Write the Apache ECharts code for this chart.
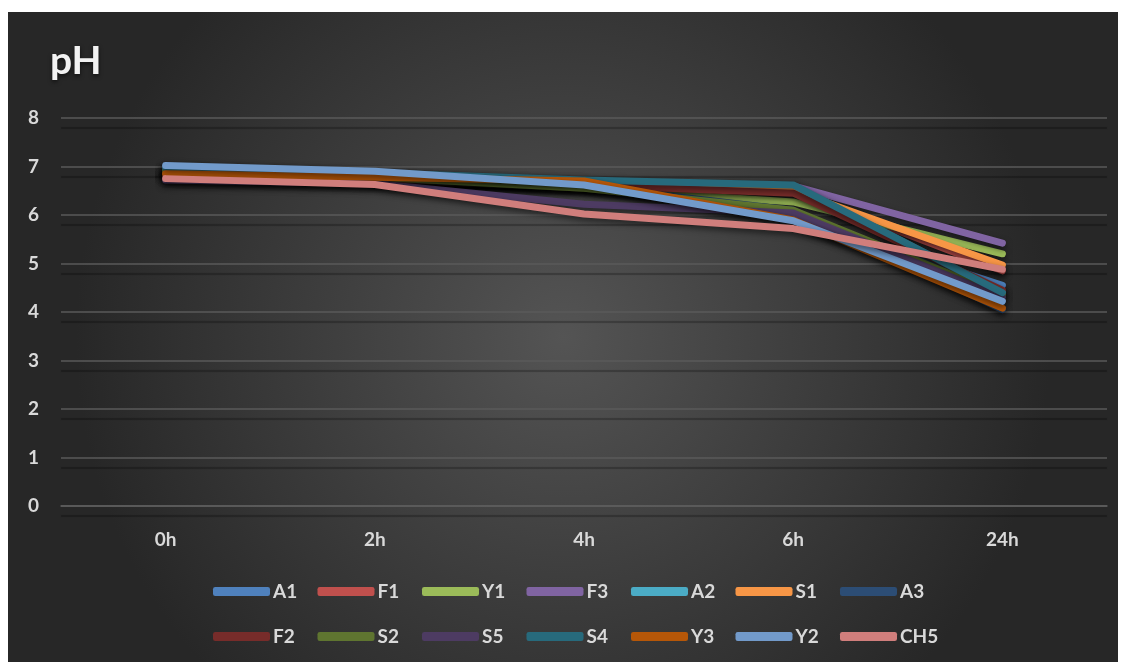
<!DOCTYPE html>
<html>
<head>
<meta charset="utf-8">
<script src="https://cdn.jsdelivr.net/npm/echarts@6/dist/echarts.min.js"></script>
<style>
html,body{margin:0;padding:0;background:#fff;width:1125px;height:662px;overflow:hidden;}
#c{position:absolute;left:8px;top:12px;width:1110px;height:650px;}
</style>
</head>
<body>
<div id="c"></div>
<script>
const categories = ['0h','2h','4h','6h','24h'];
const yTicks = [0,1,2,3,4,5,6,7,8];
const seriesNames = ['A1','F1','Y1','F3','A2','S1','A3','F2','S2','S5','S4','Y3','Y2','CH5'];
const A1  = [6.95, 6.85, 6.65, 5.95, 4.55];
const F1  = [6.80, 6.70, 6.60, 6.50, 4.85];
const Y1  = [6.90, 6.75, 6.55, 6.27, 5.20];
const F3  = [6.85, 6.75, 6.60, 6.60, 5.42];
const A2  = [6.95, 6.85, 6.70, 6.60, 4.40];
const S1  = [6.90, 6.80, 6.70, 6.50, 4.97];
const A3  = [6.85, 6.75, 6.60, 6.10, 4.05];
const F2  = [6.85, 6.75, 6.62, 6.45, 4.45];
const S2  = [6.90, 6.78, 6.55, 6.10, 4.35];
const S5  = [6.72, 6.65, 6.22, 6.04, 4.30];
const S4  = [6.98, 6.87, 6.72, 6.62, 4.40];
const Y3  = [6.85, 6.78, 6.70, 5.90, 4.08];
const Y2  = [7.02, 6.90, 6.62, 5.88, 4.22];
const CH5 = [6.75, 6.63, 6.02, 5.72, 4.88];
const values = [A1,F1,Y1,F3,A2,S1,A3,F2,S2,S5,S4,Y3,Y2,CH5];
const colors = ['#4f81bd','#c0504d','#9bbb59','#8064a2','#4bacc6','#f79646','#2c4d75','#772c2a','#5f7530','#4d3b62','#276a7c','#b65708','#729aca','#d07e7c'];

const FONT = 'Lato, "Open Sans", sans-serif';
const chart = echarts.init(document.getElementById('c'), null, {renderer:'canvas'});

const legends = seriesNames.map((n,i)=>({
  data:[n],
  left: 200 + (i % 7) * 104.5,
  top: i < 7 ? 565 : 610,
  itemWidth: 57, itemHeight: 9, itemGap: 0,
  icon: 'roundRect',
  textStyle: {color:'#d9d9d9', fontSize:19, fontWeight:'bold', fontFamily:FONT, padding:[0,0,0,-2]}
}));

chart.setOption({
  backgroundColor: {type:'radial', x:0.5, y:0.5, r:0.75,
    colorStops:[{offset:0,color:'#545454'},{offset:1,color:'#272727'}]},
  animation:false,
  color: colors,
  title: {text:'pH', left:37, top:25,
    textStyle:{color:'#f2f2f2', fontSize:39, fontWeight:'bold', fontFamily:FONT,
      textShadowColor:'rgba(0,0,0,0.6)', textShadowBlur:4, textShadowOffsetY:2}},
  legend: legends,
  grid: {left:53, right:11, top:106, bottom:156, containLabel:false},
  xAxis: {type:'category', data:categories, boundaryGap:true,
    axisLine:{show:true, lineStyle:{color:'#5e5e5e', width:1.5}},
    axisTick:{show:false},
    axisLabel:{color:'#d9d9d9', fontSize:19, fontWeight:'bold', fontFamily:FONT, margin:24}},
  yAxis: {type:'value', min:yTicks[0], max:yTicks[yTicks.length-1], interval:1,
    axisLine:{show:false}, axisTick:{show:false},
    axisLabel:{color:'#d9d9d9', fontSize:19, fontWeight:'bold', fontFamily:FONT, margin:22},
    splitLine:{lineStyle:{color:'#5a5a5a', width:1.5, shadowColor:'rgba(0,0,0,0.35)', shadowBlur:1, shadowOffsetY:10}}},
  series: seriesNames.map((n,i)=>({
    name:n, type:'line', data:values[i], showSymbol:false, symbol:'none',
    lineStyle:{width:7, cap:'round', join:'round', color:colors[i],
      shadowColor:'rgba(0,0,0,0.55)', shadowBlur:6, shadowOffsetY:3},
    itemStyle:{color:colors[i]}
  }))
});
</script>
</body>
</html>
